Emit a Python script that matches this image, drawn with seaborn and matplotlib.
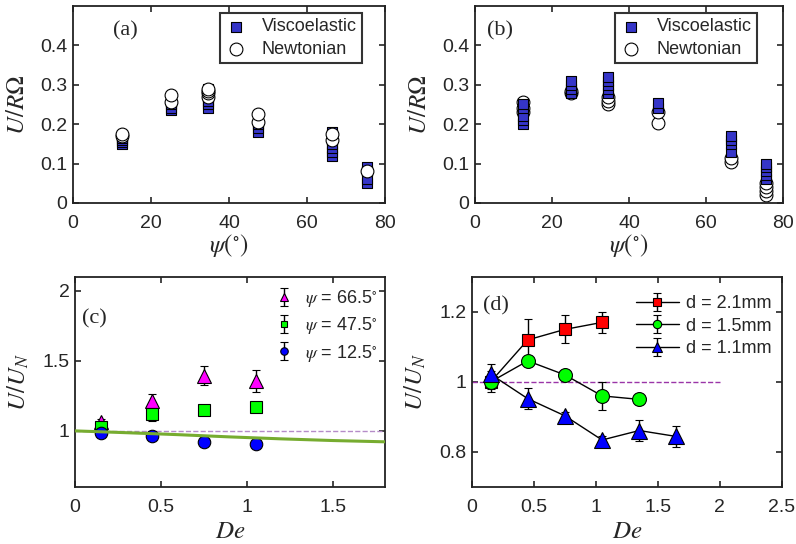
import numpy as np
import pandas as pd
import matplotlib
matplotlib.use("Agg")
import matplotlib.pyplot as plt
import seaborn as sns

# ---------------- data ----------------
psi_pos = [12.5, 25, 34.5, 47.5, 66.5, 75.5]

# panel (a)
a_visco = [
    [0.15, 0.155, 0.16, 0.165, 0.17],
    [0.235, 0.24, 0.25, 0.26],
    [0.24, 0.25, 0.26, 0.27, 0.28, 0.29],
    [0.18, 0.19, 0.2],
    [0.12, 0.13, 0.14, 0.15, 0.17, 0.18],
    [0.05, 0.06, 0.08, 0.09],
]
a_newt = [
    [0.17, 0.175],
    [0.255, 0.275],
    [0.27, 0.28, 0.285, 0.29],
    [0.205, 0.225],
    [0.16, 0.175],
    [0.08],
]

# panel (b)
b_visco = [
    [0.2, 0.21, 0.22, 0.24, 0.25],
    [0.28, 0.29, 0.3, 0.31],
    [0.28, 0.29, 0.3, 0.31, 0.32],
    [0.24, 0.253],
    [0.13, 0.15, 0.16, 0.17],
    [0.06, 0.07, 0.08, 0.09, 0.1],
]
b_newt = [
    [0.23, 0.24, 0.255],
    [0.28, 0.285],
    [0.25, 0.26, 0.27],
    [0.203, 0.23],
    [0.105, 0.115],
    [0.02, 0.03, 0.04, 0.05],
]

# panel (c)
c_de = [0.15, 0.45, 0.75, 1.05]
c_psi66 = [1.065, 1.21, 1.395, 1.355]
c_psi66_err = [0.02, 0.05, 0.065, 0.08]
c_psi47 = [1.03, 1.12, 1.15, 1.17]
c_psi47_err = [0.02, 0.05, 0.02, 0.02]
c_psi12 = [0.983, 0.96, 0.92, 0.907]
c_psi12_err = [0.01, 0.01, 0.01, 0.01]
c_theory_de = [0, 0.3, 0.6, 0.9, 1.2, 1.5, 1.8]
c_theory = [1.0, 0.987, 0.973, 0.957, 0.943, 0.931, 0.922]

# panel (d)
d21_de = [0.15, 0.45, 0.75, 1.05]
d21 = [1.0, 1.12, 1.15, 1.17]
d21_err = [0.02, 0.06, 0.04, 0.03]
d15_de = [0.15, 0.45, 0.75, 1.05, 1.35]
d15 = [1.0, 1.06, 1.02, 0.96, 0.95]
d15_err = [0.03, 0.01, 0.01, 0.04, 0.01]
d11_de = [0.15, 0.45, 0.75, 1.05, 1.35, 1.65]
d11 = [1.022, 0.952, 0.903, 0.834, 0.861, 0.844]
d11_err = [0.03, 0.03, 0.01, 0.01, 0.03, 0.03]


def long_form(groups):
    xs, ys = [], []
    for x, vals in zip(psi_pos, groups):
        for v in vals:
            xs.append(x)
            ys.append(v)
    return pd.DataFrame({"psi": xs, "U": ys})


# ---------------- style ----------------
sns.set_theme(style="ticks")
plt.rcParams["font.family"] = ["Liberation Sans", "DejaVu Sans"]
plt.rcParams["mathtext.fontset"] = "stix"
plt.rcParams["axes.linewidth"] = 1.3
plt.rcParams["axes.edgecolor"] = "#222222"
plt.rcParams["xtick.direction"] = "in"
plt.rcParams["ytick.direction"] = "in"
plt.rcParams["xtick.top"] = True
plt.rcParams["ytick.right"] = True
plt.rcParams["xtick.major.size"] = 4
plt.rcParams["ytick.major.size"] = 4
plt.rcParams["xtick.major.width"] = 1.2
plt.rcParams["ytick.major.width"] = 1.2
plt.rcParams["xtick.major.pad"] = 9
plt.rcParams["ytick.major.pad"] = 4
plt.rcParams["xtick.labelsize"] = 14
plt.rcParams["ytick.labelsize"] = 14
plt.rcParams["axes.labelsize"] = 18

VBLUE = "#3535C8"

fig = plt.figure(figsize=(7.96, 5.44), dpi=100)
ax_a = fig.add_axes([0.0917, 0.627, 0.392, 0.362])
ax_b = fig.add_axes([0.5967, 0.627, 0.387, 0.362])
ax_c = fig.add_axes([0.0942, 0.105, 0.389, 0.386])
ax_d = fig.add_axes([0.593, 0.105, 0.389, 0.386])

label_font = dict(family=["Liberation Serif", "DejaVu Serif"], fontsize=16)

# ---- (a) and (b) ----
for ax, visco, newt, tag, tag_x, leg_x, circles_on_top in [
    (ax_a, a_visco, a_newt, "(a)", 0.128, 0.926, True),
    (ax_b, b_visco, b_newt, "(b)", 0.04, 0.915, False),
]:
    dv = long_form(visco)
    dn = long_form(newt)
    zv, zn = (2, 3) if circles_on_top else (3, 2)
    sns.scatterplot(data=dv, x="psi", y="U", marker="s", s=55, color=VBLUE,
                    edgecolor="black", linewidth=0.8, ax=ax, label="Viscoelastic", zorder=zv)
    sns.scatterplot(data=dn, x="psi", y="U", marker="o", s=85, color="white",
                    edgecolor="black", linewidth=0.8, ax=ax, label="Newtonian", zorder=zn)
    ax.set_xlim(0, 80)
    ax.set_ylim(0, 0.5)
    ax.set_xticks([0, 20, 40, 60, 80])
    ax.set_yticks([0, 0.1, 0.2, 0.3, 0.4])
    ax.set_yticklabels(["0", "0.1", "0.2", "0.3", "0.4"])
    ax.set_xlabel(r"$\psi(^{\circ})$", labelpad=0)
    ax.set_ylabel(r"$U/R\Omega$", labelpad=8)
    leg = ax.legend(loc="upper right", bbox_to_anchor=(leg_x, 0.965), fontsize=13,
                    frameon=True, fancybox=False, edgecolor="black",
                    handletextpad=0.8, borderpad=0.3, labelspacing=0.3,
                    handlelength=1.2, borderaxespad=0)
    leg.get_frame().set_linewidth(1.5)
    ax.text(tag_x, 0.85, tag, transform=ax.transAxes, **label_font)

# ---- (c) ----
err_kw = dict(capsize=3, ecolor="black", elinewidth=1, capthick=1,
              linestyle="none", markeredgecolor="black", markeredgewidth=0.8)
sns.lineplot(x=[0, 1.8], y=[1, 1], ax=ax_c, color="#B58CC8", linestyle="--",
             linewidth=1, zorder=1)
h66 = ax_c.errorbar(c_de, c_psi66, yerr=c_psi66_err, marker="^", ms=10,
                    mfc="#FF00FF", label=r"$\psi$ = 66.5$^{\circ}$", zorder=3, **err_kw)
h47 = ax_c.errorbar(c_de, c_psi47, yerr=c_psi47_err, marker="s", ms=8,
                    mfc="#00FF00", label=r"$\psi$ = 47.5$^{\circ}$", zorder=3, **err_kw)
h12 = ax_c.errorbar(c_de, c_psi12, yerr=c_psi12_err, marker="o", ms=9,
                    mfc="#0000FF", label=r"$\psi$ = 12.5$^{\circ}$", zorder=3, **err_kw)
sns.lineplot(x=c_theory_de, y=c_theory, ax=ax_c, color="#77AC30", linewidth=2.2,
             zorder=4)
ax_c.set_xlim(0, 1.8)
ax_c.set_ylim(0.6, 2.1)
ax_c.set_xticks([0, 0.5, 1, 1.5])
ax_c.set_xticklabels(["0", "0.5", "1", "1.5"])
ax_c.set_yticks([1, 1.5, 2])
ax_c.set_yticklabels(["1", "1.5", "2"])
ax_c.set_xlabel(r"$De$", labelpad=2)
ax_c.set_ylabel(r"$U/U_N$", labelpad=8)
ax_c.legend(handles=[h66, h47, h12], loc="upper right", bbox_to_anchor=(1.03, 1.025),
            frameon=False, fontsize=13, markerscale=0.6, handlelength=1.0,
            labelspacing=0.35, handletextpad=0.7)
ax_c.text(0.023, 0.78, "(c)", transform=ax_c.transAxes, **label_font)

# ---- (d) ----
sns.lineplot(x=[0, 2], y=[1, 1], ax=ax_d, color="#9A35A8", linestyle="--",
             linewidth=1, zorder=1)
line_kw = dict(capsize=3, color="black", ecolor="black", elinewidth=1, capthick=1,
               linewidth=1, markeredgecolor="black", markeredgewidth=0.8)
g21 = ax_d.errorbar(d21_de, d21, yerr=d21_err, marker="s", ms=9, mfc="#FF0000",
                    label="d = 2.1mm", zorder=3, **line_kw)
g15 = ax_d.errorbar(d15_de, d15, yerr=d15_err, marker="o", ms=10, mfc="#00FF00",
                    label="d = 1.5mm", zorder=3, **line_kw)
g11 = ax_d.errorbar(d11_de, d11, yerr=d11_err, marker="^", ms=11, mfc="#0000FF",
                    label="d = 1.1mm", zorder=3, **line_kw)
ax_d.set_xlim(0, 2.5)
ax_d.set_ylim(0.7, 1.3)
ax_d.set_xticks([0, 0.5, 1, 1.5, 2, 2.5])
ax_d.set_xticklabels(["0", "0.5", "1", "1.5", "2", "2.5"])
ax_d.set_yticks([0.8, 1, 1.2])
ax_d.set_yticklabels(["0.8", "1", "1.2"])
ax_d.set_xlabel(r"$De$", labelpad=2)
ax_d.set_ylabel(r"$U/U_N$", labelpad=8)
ax_d.legend(handles=[g21, g15, g11], loc="upper right", bbox_to_anchor=(1.02, 0.99),
            frameon=False, fontsize=13, markerscale=0.6, handlelength=2.4,
            labelspacing=0.3, handletextpad=0.4)
ax_d.text(0.035, 0.84, "(d)", transform=ax_d.transAxes, **label_font)

fig.savefig("out.png", dpi=100)
